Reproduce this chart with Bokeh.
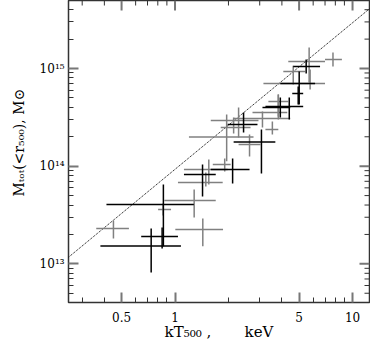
import math
from bokeh.plotting import figure
from bokeh.models import FixedTicker, ColumnDataSource, Range1d
from bokeh.embed import file_html
from bokeh.resources import INLINE

# ---- gray sample: kT500 (keV) with range, Mtot (Msun) with range
g_T   = [0.45, 0.857, 1.434, 1.282, 1.550, 1.491, 1.905, 1.954, 2.629, 2.281, 2.139, 3.535, 3.819, 3.109, 3.819, 5.768, 5.695, 4.634, 7.759]
g_Tlo = [0.36, 0.803, 1.004, 0.871, 1.123, 1.039, 1.632, 1.198, 2.281, 1.590, 1.809, 3.231, 2.732, 2.139, 3.357, 3.148, 4.345, 4.074, 6.998]
g_Thi = [0.55, 0.950, 1.864, 1.696, 1.980, 1.856, 2.058, 2.768, 3.029, 2.952, 2.663, 3.819, 4.289, 4.458, 4.345, 6.998, 6.998, 5.409, 8.711]
g_M   = [2.30e13, 3.61e13, 2.25e13, 4.46e13, 9.25e13, 6.81e13, 1.04e14, 1.99e14, 1.67e14, 2.94e14, 2.49e14, 2.38e14, 3.55e14, 3.08e14, 4.59e14, 7.02e14, 1.18e15, 9.32e14, 1.24e15]
g_Mlo = [1.82e13, 3.13e13, 1.51e13, 2.99e13, 6.50e13, 6.20e13, 8.83e13, 1.12e14, 1.26e14, 1.97e14, 2.16e14, 2.11e14, 3.23e14, 2.49e14, 3.01e14, 6.10e14, 7.19e14, 6.86e14, 1.05e15]
g_Mhi = [2.78e13, 4.15e13, 2.92e13, 5.78e13, 1.17e14, 8.62e13, 1.20e14, 3.38e14, 2.11e14, 3.99e14, 3.15e14, 2.87e14, 5.42e14, 3.63e14, 5.42e14, 9.77e14, 1.64e15, 1.07e15, 1.46e15]

# ---- black sample
b_T   = [0.860, 0.846, 0.734, 1.429, 2.111, 3.068, 2.433, 3.919, 4.401, 5.006, 4.942, 5.480]
b_Tlo = [0.411, 0.645, 0.380, 1.123, 1.590, 2.139, 1.980, 3.109, 3.231, 3.919, 4.575, 4.634]
b_Thi = [1.277, 1.039, 1.080, 1.696, 2.629, 3.674, 2.914, 4.458, 5.272, 6.152, 5.272, 6.561]
b_M   = [4.06e13, 1.91e13, 1.52e13, 8.22e13, 9.25e13, 1.77e14, 2.67e14, 3.99e14, 4.08e14, 7.02e14, 5.55e14, 1.05e15]
b_Mlo = [1.51e13, 1.44e13, 8.17e12, 4.90e13, 6.65e13, 8.42e13, 2.21e14, 3.15e14, 3.01e14, 4.28e14, 4.28e14, 8.89e14]
b_Mhi = [6.50e13, 2.36e13, 2.30e13, 1.04e14, 1.20e14, 2.38e14, 3.55e14, 5.05e14, 5.05e14, 9.32e14, 6.54e14, 1.24e15]

# ---- reference relation (dotted line)
line_T = [0.25, 12.5]
line_M = [1.16e13, 4.11e15]

# ---- ticks
x_major = [0.5, 1, 5, 10]
x_labels = ["0.5", "1", "5", "10"]
x_minor = [0.3, 0.4, 0.6, 0.7, 0.8, 0.9, 2, 3, 4, 6, 7, 8, 9]
y_major = [1e13, 1e14, 1e15]
y_labels = ["10\u00b9\u00b3", "10\u00b9\u2074", "10\u00b9\u2075"]
y_minor = [5e12, 6e12, 7e12, 8e12, 9e12,
           2e13, 3e13, 4e13, 5e13, 6e13, 7e13, 8e13, 9e13,
           2e14, 3e14, 4e14, 5e14, 6e14, 7e14, 8e14, 9e14,
           2e15, 3e15, 4e15]
NB = "\u00a0"
x_title = "kT\u2085\u2080\u2080" + NB + "," + NB * 7 + "keV"
y_title = NB * 4 + "M\u209c\u2092\u209c(<r\u2085\u2080\u2080)," + NB + "M\u2299"

X_MIN, X_MAX = 0.2512, 12.46
Y_MIN, Y_MAX = 4.02e12, 4.97e15
FONT = "DejaVu Serif"
MAJ_COL, MIN_COL = "#777777", "#333333"

p = figure(width=363, height=348, x_axis_type="log", y_axis_type="log",
           x_range=Range1d(X_MIN, X_MAX), y_range=Range1d(Y_MIN, Y_MAX),
           output_backend="svg", toolbar_location=None,
           min_border_left=59, min_border_right=1, min_border_top=0, min_border_bottom=46)
p.margin = (0, 0, 0, 7)
p.xgrid.visible = False
p.ygrid.visible = False
p.outline_line_color = "#333333"
p.outline_line_width = 1.5

xt = FixedTicker(ticks=x_major, minor_ticks=x_minor)
yt = FixedTicker(ticks=y_major, minor_ticks=y_minor)

bx = p.xaxis[0]
ly = p.yaxis[0]
bx.ticker = xt
ly.ticker = yt
for ax in [bx, ly]:
    ax.major_tick_in = 10
    ax.major_tick_out = 0
    ax.minor_tick_in = 5
    ax.minor_tick_out = 0
    ax.major_tick_line_color = MAJ_COL
    ax.major_tick_line_width = 2
    ax.minor_tick_line_color = MIN_COL
    ax.minor_tick_line_width = 1
    ax.axis_line_color = None
    ax.major_label_text_font = FONT
    ax.major_label_text_color = "black"
    ax.major_label_text_font_size = "12px"
    ax.axis_label_text_font = FONT
    ax.axis_label_text_font_style = "normal"
    ax.axis_label_text_color = "black"

bx.major_label_overrides = dict(zip(x_major, x_labels))
bx.major_label_standoff = 9
bx.axis_label = x_title
bx.axis_label_text_font_size = "15px"
bx.axis_label_standoff = -2

ly.major_label_overrides = dict(zip(y_major, y_labels))
ly.major_label_standoff = 4
ly.axis_label = y_title
ly.axis_label_text_font_size = "14px"
ly.axis_label_standoff = 10

# mirrored inward ticks on the top and right edges of the frame
p.ray(x=x_major, y=[Y_MAX] * len(x_major), length=10, length_units="screen",
      angle=-math.pi / 2, line_color=MAJ_COL, line_width=2)
p.ray(x=x_minor, y=[Y_MAX] * len(x_minor), length=5, length_units="screen",
      angle=-math.pi / 2, line_color=MIN_COL, line_width=1)
p.ray(x=[X_MAX] * len(y_major), y=y_major, length=10, length_units="screen",
      angle=math.pi, line_color=MAJ_COL, line_width=2)
p.ray(x=[X_MAX] * len(y_minor), y=y_minor, length=5, length_units="screen",
      angle=math.pi, line_color=MIN_COL, line_width=1)

p.line(line_T, line_M, line_color="black", line_width=1, line_dash="1 1")

gsrc = ColumnDataSource(dict(T=g_T, Tlo=g_Tlo, Thi=g_Thi, M=g_M, Mlo=g_Mlo, Mhi=g_Mhi))
bsrc = ColumnDataSource(dict(T=b_T, Tlo=b_Tlo, Thi=b_Thi, M=b_M, Mlo=b_Mlo, Mhi=b_Mhi))
for src, col in [(gsrc, "#808080"), (bsrc, "black")]:
    p.segment(x0="Tlo", y0="M", x1="Thi", y1="M", source=src, line_color=col, line_width=1.5)
    p.segment(x0="T", y0="Mlo", x1="T", y1="Mhi", source=src, line_color=col, line_width=1.5)

open("out.html", "w").write(file_html(p, INLINE))
